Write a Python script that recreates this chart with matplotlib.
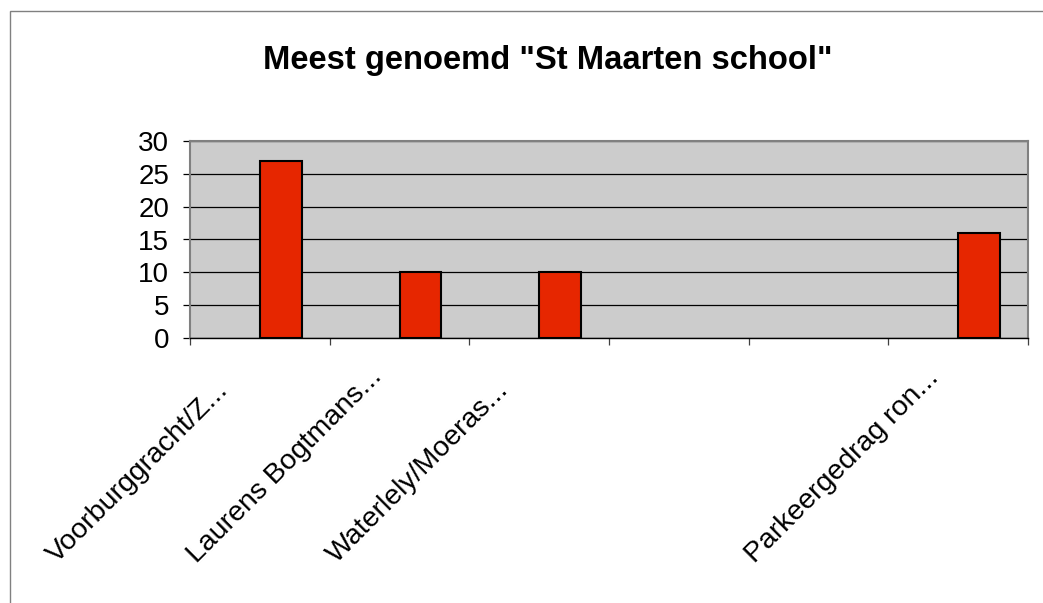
import matplotlib
matplotlib.use("Agg")
import matplotlib.pyplot as plt
import matplotlib.transforms as mtransforms
from matplotlib.patches import Rectangle
import numpy as np

plt.rcParams['font.family'] = ['Liberation Sans', 'DejaVu Sans']

title = 'Meest genoemd "St Maarten school"'
categories = ["Voorburggracht/Z...", "Laurens Bogtmans...", "Waterlely/Moeras...",
              "", "", "Parkeergedrag ron..."]
values = [27, 10, 10, 0, 0, 16]
yticks = [0, 5, 10, 15, 20, 25, 30]

W, H = 1043, 603
fig = plt.figure(figsize=(W / 100, H / 100), dpi=100)
fig.patch.set_facecolor("white")

# outer chart frame (only left/top visible)
fig.patches.append(Rectangle((10 / W, -0.1), 1.2, 1.1 - 11 / H,
                             transform=fig.transFigure, fill=False,
                             edgecolor="#808080", linewidth=1.0))

L, R, T, B = 190, 1028, 141, 338
ax = fig.add_axes([L / W, 1 - B / H, (R - L) / W, (B - T) / H])
ax.set_facecolor("#CCCCCC")

n = len(categories)
x = np.arange(n)
vals = np.array(values, dtype=float)
mask = vals > 0
bw = 0.3
ax.bar((x + 0.5 + bw / 2)[mask], vals[mask], width=bw, color="#E62600",
       edgecolor="black", linewidth=1.5, zorder=3)

ax.set_xlim(0, n)
ax.set_ylim(0, 30)
ax.set_yticks(yticks)
ax.set_yticklabels([str(v) for v in yticks], fontsize=20)
ax.yaxis.grid(True, color="black", linewidth=0.9, zorder=1)
ax.set_axisbelow(True)
ax.tick_params(axis="y", direction="out", length=5, width=0.9, pad=10, colors="black")
ax.set_xticks(np.arange(n + 1))
ax.set_xticklabels([])
ax.tick_params(axis="x", direction="out", length=5, width=0.9, color="#404040")

for s in ["left", "top", "right"]:
    ax.spines[s].set_color("#808080")
    ax.spines[s].set_linewidth(1.5)
ax.spines["bottom"].set_color("black")
ax.spines["bottom"].set_linewidth(1.0)

trans = mtransforms.offset_copy(ax.get_xaxis_transform(), fig=fig,
                                x=-203, y=-226, units="dots")
for i, lab in enumerate(categories):
    if lab:
        ax.text(i + 0.5, 0, lab, transform=trans, rotation=45,
                rotation_mode="anchor", ha="left", va="baseline",
                fontsize=20.5, clip_on=False)

fig.text(548 / W, 1 - 60 / H, title, ha="center", va="center",
         fontsize=23.6, fontweight="bold")

fig.savefig("out.png", dpi=100)
